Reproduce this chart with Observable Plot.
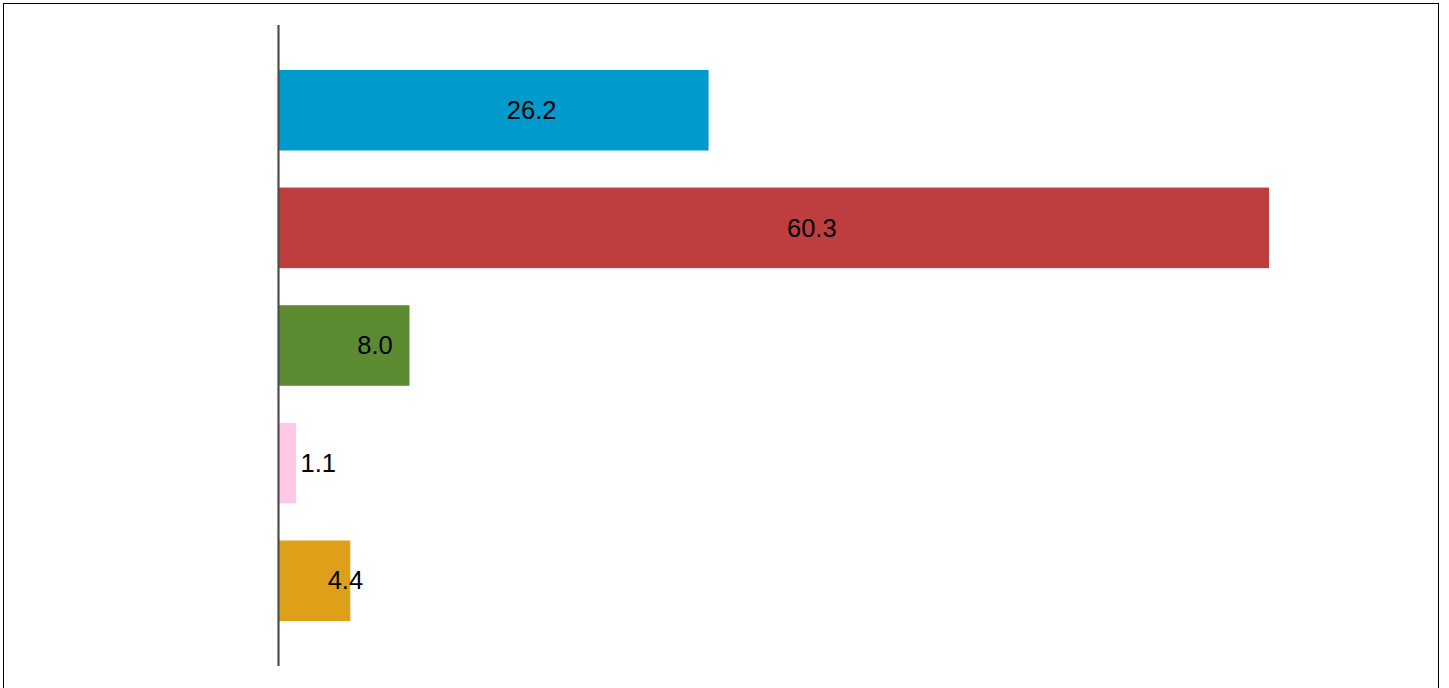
<!DOCTYPE html>
<html>
<head>
<meta charset="utf-8">
<script src="https://cdn.jsdelivr.net/npm/d3@7"></script>
<script src="https://cdn.jsdelivr.net/npm/@observablehq/plot@0.6"></script>
<style>
  html, body { margin: 0; padding: 0; background: #fff; overflow: hidden; }
  #frame { position: absolute; left: 3px; top: 3px; width: 1434px; height: 720px; border: 1px solid #000; box-sizing: content-box; pointer-events: none; }
  #chart { position: absolute; left: 0; top: 0; }
</style>
</head>
<body>
<div id="chart"></div>
<div id="frame"></div>
<script>
const categories = ["A", "B", "C", "D", "E"];
const values = [26.2, 60.3, 8.0, 1.1, 4.4];
const colors = ["#009ACD", "#BE3D3F", "#5C8A31", "#FFC8E5", "#DEA018"];

const data = categories.map((c, i) => ({category: c, value: values[i], color: colors[i]}));

const chart = Plot.plot({
  width: 1449,
  height: 688,
  marginTop: 25,
  marginBottom: 22,
  marginLeft: 278,
  marginRight: 180,
  style: {fontFamily: "'Liberation Sans', Arial, sans-serif", background: "transparent"},
  x: {domain: [0, d3.max(values)], axis: null},
  y: {domain: categories, axis: null, paddingInner: 0.315, paddingOuter: 0.382, round: false},
  marks: [
    Plot.barX(data, {x: "value", y: "category", fill: "color"}),
    Plot.text(data, {
      x: d => d.value / 2,
      y: "category",
      text: d => d.value.toFixed(1),
      textAnchor: "start",
      dx: 13,
      fontSize: 25.5,
      fill: "#000"
    }),
    Plot.ruleX([0], {stroke: "#4d4d4d", strokeWidth: 2.2})
  ]
});
document.getElementById("chart").appendChild(chart);
</script>
</body>
</html>
